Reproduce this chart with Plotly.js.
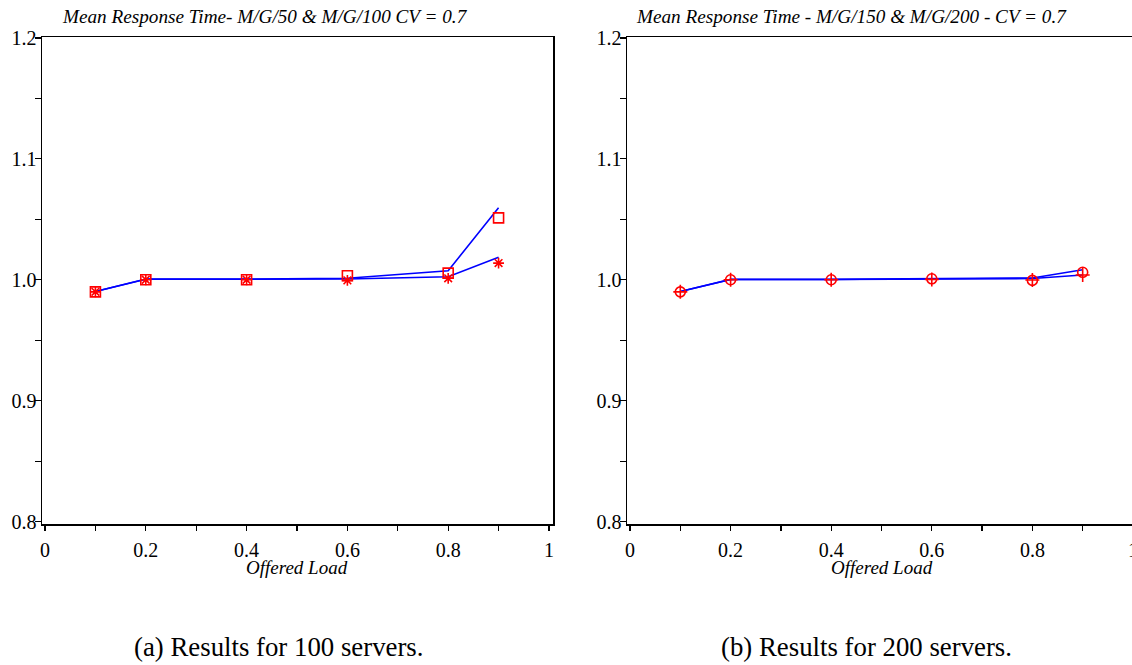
<!DOCTYPE html>
<html>
<head>
<meta charset="utf-8">
<script src="https://cdn.plot.ly/plotly-3.0.1.min.js"></script>
<style>
  html, body { margin: 0; padding: 0; overflow: hidden; background: #fff; }
  #chart { width: 1145px; height: 665px; }
</style>
</head>
<body>
<div id="chart"></div>
<script>
// Offered load (x) values
const load = [0.1, 0.2, 0.4, 0.6, 0.8, 0.9];

// Chart (a): 100 servers
const a_line_upper = [0.9903, 1.0006, 1.0006, 1.0012, 1.0075, 1.0595];
const a_line_lower = [0.9903, 1.0004, 1.0004, 1.0006, 1.0025, 1.0186];
const a_square = [0.9900, 1.0000, 1.0000, 1.0033, 1.0055, 1.0512];
const a_star = [0.9900, 1.0000, 1.0000, 0.9995, 1.0012, 1.0138];

// Chart (b): 200 servers
const b_line_upper = [0.9903, 1.0003, 1.0003, 1.0006, 1.0015, 1.0083];
const b_line_lower = [0.9903, 1.0002, 1.0002, 1.0004, 1.0010, 1.0040];
const b_circle = [0.9900, 1.0000, 1.0000, 1.0008, 0.9995, 1.0062];
const b_plus = [0.9900, 1.0000, 1.0000, 1.0003, 0.9998, 1.0040];

const titleA = "Mean Response Time- M/G/50 & M/G/100 CV = 0.7";
const titleB = "Mean Response Time - M/G/150 & M/G/200 - CV = 0.7";
const xTitle = "Offered Load";
const captionA = "(a) Results for 100 servers.";
const captionB = "(b) Results for 200 servers.";
const xTickVals = [0, 0.2, 0.4, 0.6, 0.8, 1];
const xTickText = ["0", "0.2", "0.4", "0.6", "0.8", "1"];
const yTickVals = [0.8, 0.9, 1.0, 1.1, 1.2];
const yTickText = ["0.8", "0.9", "1.0", "1.1", "1.2"];

const W = 1145, H = 665;
const serif = '"Liberation Serif", "Times New Roman", Times, serif';
const blue = "#0000ff", red = "#ff0000";

function lineTrace(y, xa, ya) {
  return { x: load, y: y, xaxis: xa, yaxis: ya, type: "scatter", mode: "lines",
    line: { color: blue, width: 1.6 }, hoverinfo: "skip", showlegend: false };
}
function markTrace(y, xa, ya, sym, size) {
  return { x: load, y: y, xaxis: xa, yaxis: ya, type: "scatter", mode: "markers",
    marker: { symbol: sym, size: size, color: red, line: { color: red, width: 1.6 } },
    showlegend: false };
}

const traces = [
  lineTrace(a_line_upper, "x", "y"),
  lineTrace(a_line_lower, "x", "y"),
  markTrace(a_square, "x", "y", "square-open", 10),
  markTrace(a_star, "x", "y", "asterisk-open", 9),
  lineTrace(b_line_upper, "x2", "y2"),
  lineTrace(b_line_lower, "x2", "y2"),
  markTrace(b_circle, "x2", "y2", "circle-open", 10),
  markTrace(b_plus, "x2", "y2", "cross-thin-open", 10)
];

function xaxis(domain) {
  return {
    domain: domain, range: [-0.006, 1.008], showgrid: false, zeroline: false,
    showline: true, mirror: true, linecolor: "#000", linewidth: 1.5,
    tickmode: "array", tickvals: xTickVals, ticktext: xTickText,
    ticks: "outside", ticklen: 5, tickwidth: 1.2, tickcolor: "#000",
    ticklabelstandoff: 2,
    minor: { dtick: 0.1, tick0: 0, ticks: "outside", ticklen: 5, tickwidth: 1.2, tickcolor: "#000", showgrid: false },
    tickfont: { family: serif, size: 20, color: "#000" },
    fixedrange: true
  };
}
function yaxis(anchor) {
  return {
    anchor: anchor, domain: [(H - 524) / H, (H - 37) / H], range: [0.798, 1.2008],
    showgrid: false, zeroline: false, showline: true, mirror: true, linecolor: "#000", linewidth: 1.5,
    tickmode: "array", tickvals: yTickVals, ticktext: yTickText,
    ticks: "outside", ticklen: 6, tickwidth: 1.2, tickcolor: "#000",
    ticklabelstandoff: -6,
    minor: { dtick: 0.05, tick0: 0.8, ticks: "outside", ticklen: 6, tickwidth: 1.2, tickcolor: "#000", showgrid: false },
    tickfont: { family: serif, size: 20, color: "#000" },
    fixedrange: true
  };
}

function ann(text, xpx, ypx, size, style) {
  return { text: text, xref: "paper", yref: "paper", x: xpx / W, y: (H - ypx) / H,
    xanchor: "center", yanchor: "middle", showarrow: false,
    font: { family: serif, size: size, color: "#000", style: style } };
}

const layout = {
  width: W, height: H,
  margin: { l: 0, r: 0, t: 0, b: 0 },
  paper_bgcolor: "#fff", plot_bgcolor: "#fff",
  font: { family: serif },
  xaxis: Object.assign(xaxis([42 / W, 553 / W]), { anchor: "y" }),
  yaxis: yaxis("x"),
  xaxis2: Object.assign(xaxis([627 / W, 1137 / W]), { anchor: "y2" }),
  yaxis2: yaxis("x2"),
  annotations: [
    ann(titleA, 265, 16, 19.2, "italic"),
    ann(titleB, 851, 16, 19.2, "italic"),
    ann(xTitle, 297, 567, 19, "italic"),
    ann(xTitle, 882, 567, 19, "italic"),
    ann(captionA, 278, 647, 26.8, "normal"),
    ann(captionB, 866, 647, 26.8, "normal")
  ]
};

Plotly.newPlot("chart", traces, layout, { staticPlot: true, displayModeBar: false });
</script>
</body>
</html>
